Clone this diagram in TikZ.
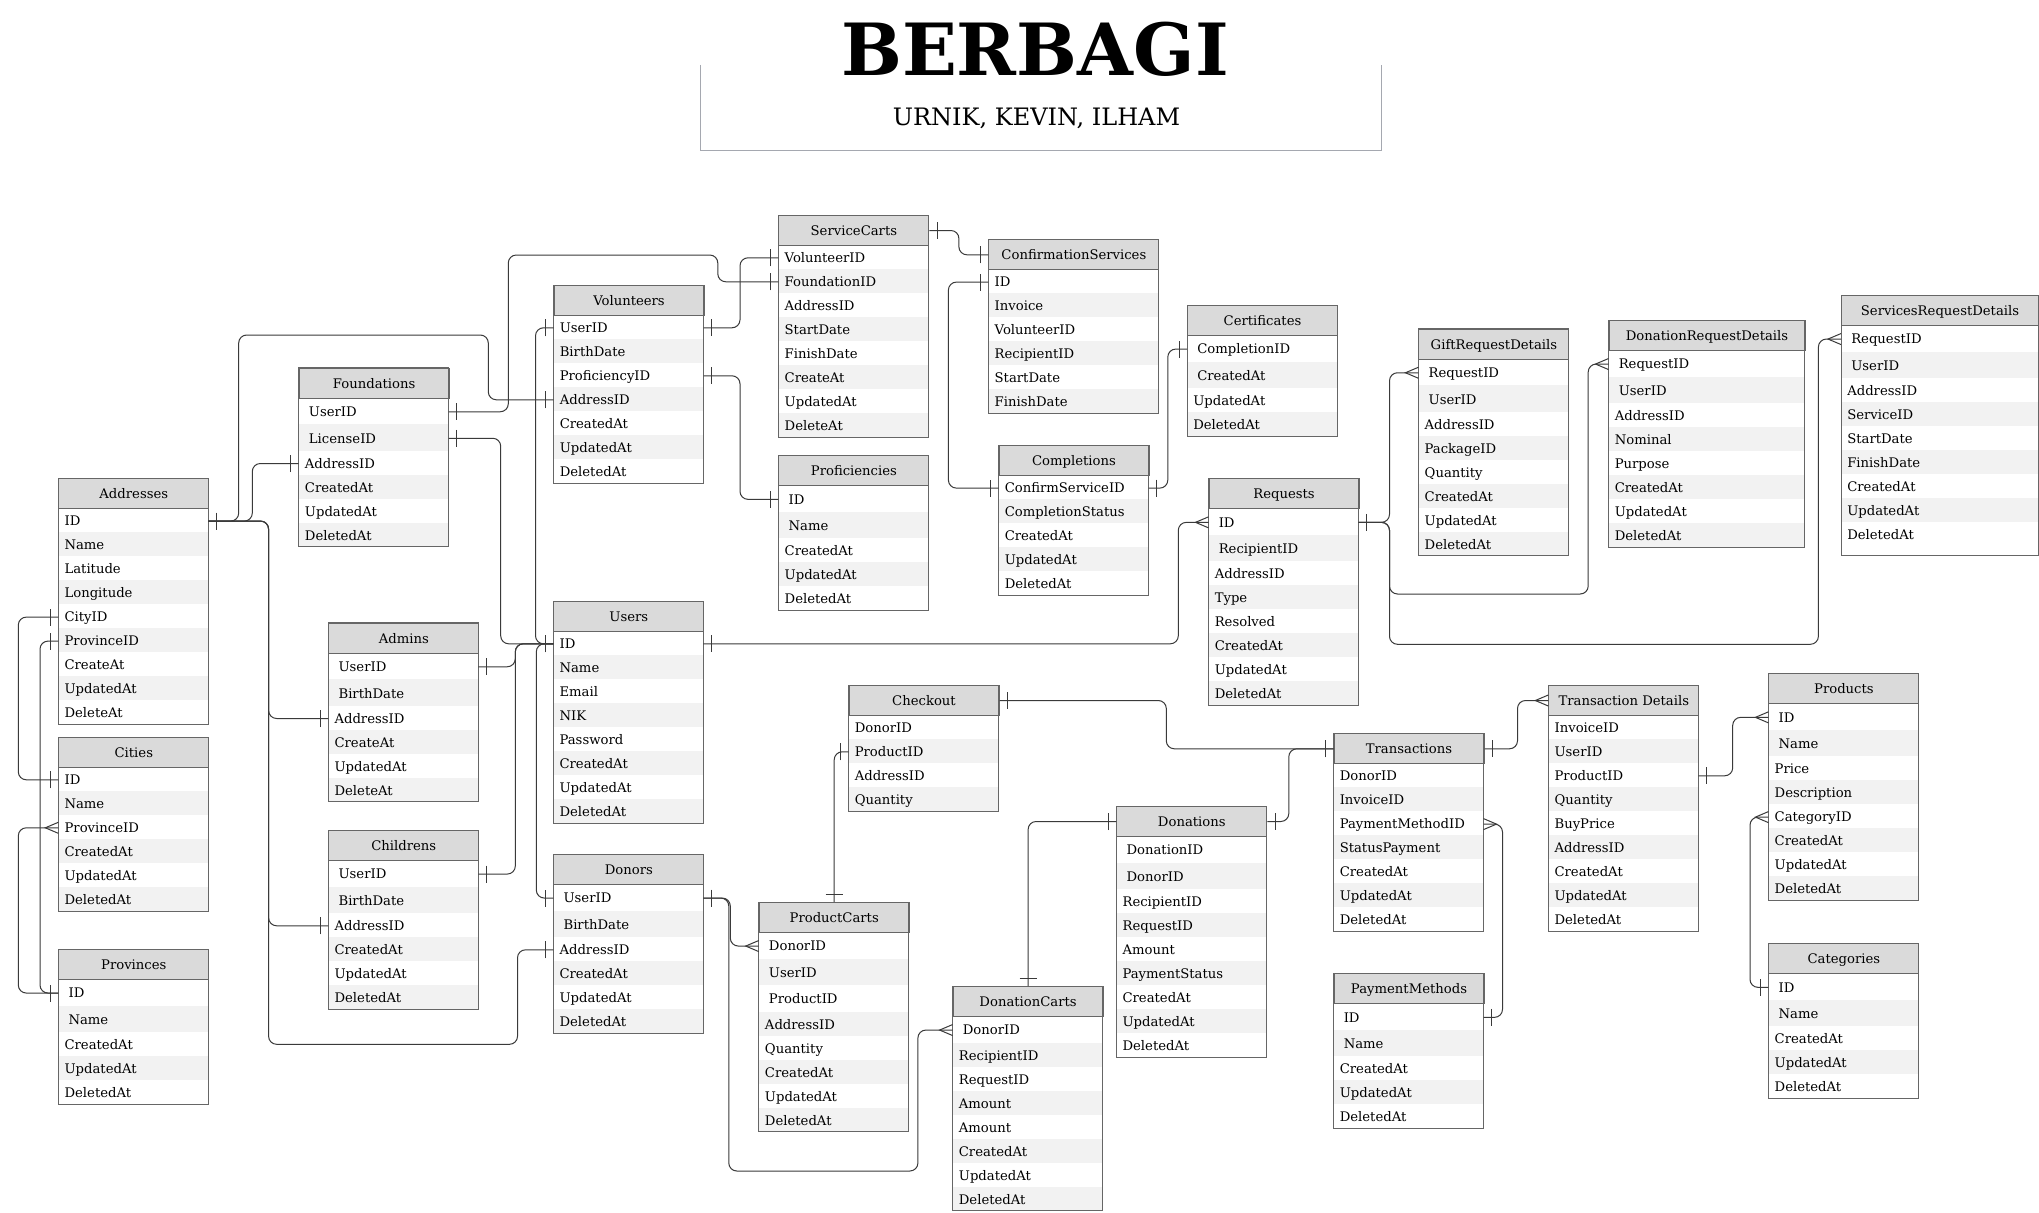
\documentclass[tikz,border=0pt]{standalone}
\usepackage{fontspec}
\setmainfont{DejaVu Serif}
\definecolor{tborder}{HTML}{666666}
\definecolor{hdrfill}{HTML}{DADADA}
\definecolor{rowgray}{HTML}{F2F2F2}
\definecolor{linecol}{HTML}{3A3A3A}
\definecolor{boxcol}{HTML}{A5A8B0}
\newcommand\tfont{\fontsize{9.9pt}{11pt}\selectfont}
\tikzset{
  hdrbox/.style={draw=tborder, fill=hdrfill, line width=0.75pt, inner sep=0pt, anchor=north west, font=\tfont, text height=7.2pt, text depth=0pt},
  rowtext/.style={anchor=west, inner sep=0pt, font=\tfont, text height=7.2pt, text depth=0pt},
  conn/.style={draw=linecol, line width=0.75pt, rounded corners=6pt},
  endmark/.style={draw=linecol, line width=0.75pt},
}
% table: id, x, y, width, title, number of tall rows, rows, extra bottom
\newcommand\ertable[8]{%
  \pgfmathsetmacro\erx{#2}%
  \pgfmathsetmacro\erw{#4}%
  \pgfmathsetmacro\ery{#3+30}%
  \xdef\ercury{\ery}%
  \xdef\erri{0}%
  \foreach \er in {#7}{%
    \pgfmathtruncatemacro\erk{\erri+1}%
    \ifnum\erk>#6\relax \def\erh{24}\def\erind{6}\else\def\erh{26.5}\def\erind{10}\fi
    \ifodd\erk\relax\def\erfill{white}\else\def\erfill{rowgray}\fi
    \pgfmathsetmacro\ernext{\ercury+\erh}%
    \pgfmathsetmacro\ermid{\ercury+\erh/2+0.8}%
    \fill[\erfill] (\erx,\ercury) rectangle (\erx+\erw,\ernext);
    \node[rowtext] (#1-\erk) at (\erx+\erind,\ermid) {\er};
    \coordinate (#1-\erk-w) at (\erx,\ermid);
    \coordinate (#1-\erk-e) at (\erx+\erw,\ermid);
    \xdef\ercury{\ernext}%
    \xdef\erri{\erk}%
  }%
  \node[hdrbox, minimum width=#4*0.75pt, minimum height=22.5pt] (#1) at (#2,#3) {#5};
  \pgfmathsetmacro\erbot{\ercury+#8}%
  \draw[tborder, line width=0.75pt] (#2,#3) rectangle (\erx+\erw,\erbot);
}
\newcommand\erone[2]{\draw[endmark, shift={(#1)}, rotate=#2] (8,-8.5) -- (8,8.5);}
\newcommand\ermany[2]{\draw[endmark, shift={(#1)}, rotate=#2] (0,-5.5) -- (13,0) -- (0,5.5);}
\begin{document}
\begin{tikzpicture}[x=0.75pt, y=-0.75pt]
\useasboundingbox (0,0) rectangle (2039,1213);
\fill[white] (0,0) rectangle (2039,1213);

% title
\draw[boxcol, line width=1.1pt] (700.7,65) -- (700.7,150.7) -- (1381.6,150.7) -- (1381.6,65);
\node[anchor=base, inner sep=0pt, font=\fontsize{54pt}{58pt}\selectfont\bfseries] (title) at (1035,75) {BERBAGI};
\node[anchor=base, inner sep=0pt, font=\fontsize{18pt}{21pt}\selectfont] (authors) at (1036.5,125) {URNIK, KEVIN, ILHAM};

% tables
\ertable{addr}{58.3}{478.3}{150}{Addresses}{0}{ID,Name,Latitude,Longitude,CityID,ProvinceID,CreateAt,UpdatedAt,DeleteAt}{0}
\ertable{cit}{58.3}{737}{150}{Cities}{0}{ID,Name,ProvinceID,CreatedAt,UpdatedAt,DeletedAt}{0}
\ertable{prov}{58.3}{949}{150}{Provinces}{2}{ID,Name,CreatedAt,UpdatedAt,DeletedAt}{0}
\ertable{fnd}{298.7}{367.7}{150}{Foundations}{2}{UserID,LicenseID,AddressID,CreatedAt,UpdatedAt,DeletedAt}{0}
\ertable{adm}{328.3}{622.7}{150}{Admins}{2}{UserID,BirthDate,AddressID,CreateAt,UpdatedAt,DeleteAt}{0}
\ertable{chd}{328.3}{830}{150}{Childrens}{2}{UserID,BirthDate,AddressID,CreatedAt,UpdatedAt,DeletedAt}{0}
\ertable{vol}{553.5}{285}{150}{Volunteers}{0}{UserID,BirthDate,ProficiencyID,AddressID,CreatedAt,UpdatedAt,DeletedAt}{0}
\ertable{usr}{553.3}{601}{150}{Users}{0}{ID,Name,Email,NIK,Password,CreatedAt,UpdatedAt,DeletedAt}{0}
\ertable{don}{553.3}{854}{150}{Donors}{2}{UserID,BirthDate,AddressID,CreatedAt,UpdatedAt,DeletedAt}{0}
\ertable{sc}{778.4}{215}{150}{ServiceCarts}{0}{VolunteerID,FoundationID,AddressID,StartDate,FinishDate,CreateAt,UpdatedAt,DeleteAt}{0}
\ertable{prof}{778.4}{455.3}{150}{Proficiencies}{2}{ID,Name,CreatedAt,UpdatedAt,DeletedAt}{0}
\ertable{cs}{988.4}{239.3}{170}{ConfirmationServices}{0}{ID,Invoice,VolunteerID,RecipientID,StartDate,FinishDate}{0}
\ertable{comp}{998.5}{445.3}{150}{Completions}{0}{ConfirmServiceID,CompletionStatus,CreatedAt,UpdatedAt,DeletedAt}{0}
\ertable{cert}{1187}{305}{150}{Certificates}{2}{CompletionID,CreatedAt,UpdatedAt,DeletedAt}{0}
\ertable{req}{1208.5}{478.3}{150}{Requests}{2}{ID,RecipientID,AddressID,Type,Resolved,CreatedAt,UpdatedAt,DeletedAt}{0}
\ertable{grd}{1418.4}{328.7}{150}{GiftRequestDetails}{2}{RequestID,UserID,AddressID,PackageID,Quantity,CreatedAt,UpdatedAt,DeletedAt}{0}
\ertable{drd}{1608.5}{320}{196}{DonationRequestDetails}{2}{RequestID,UserID,AddressID,Nominal,Purpose,CreatedAt,UpdatedAt,DeletedAt}{0}
\ertable{srd}{1841}{295}{197}{ServicesRequestDetails}{2}{RequestID,UserID,AddressID,ServiceID,StartDate,FinishDate,CreatedAt,UpdatedAt,DeletedAt}{9.4}
\ertable{chk}{848.5}{685}{150}{Checkout}{0}{DonorID,ProductID,AddressID,Quantity}{0}
\ertable{dnt}{1116.3}{806}{150}{Donations}{2}{DonationID,DonorID,RecipientID,RequestID,Amount,PaymentStatus,CreatedAt,UpdatedAt,DeletedAt}{0}
\ertable{trx}{1333.5}{733.3}{150}{Transactions}{0}{DonorID,InvoiceID,PaymentMethodID,StatusPayment,CreatedAt,UpdatedAt,DeletedAt}{0}
\ertable{pm}{1333.5}{973.3}{150}{PaymentMethods}{2}{ID,Name,CreatedAt,UpdatedAt,DeletedAt}{0}
\ertable{td}{1548.3}{685}{150}{Transaction Details}{0}{InvoiceID,UserID,ProductID,Quantity,BuyPrice,AddressID,CreatedAt,UpdatedAt,DeletedAt}{0}
\ertable{prd}{1768.4}{673.3}{150}{Products}{2}{ID,Name,Price,Description,CategoryID,CreatedAt,UpdatedAt,DeletedAt}{0}
\ertable{cat}{1768.4}{943.3}{150}{Categories}{2}{ID,Name,CreatedAt,UpdatedAt,DeletedAt}{0}
\ertable{pc}{758.7}{902}{150}{ProductCarts}{3}{DonorID,UserID,ProductID,AddressID,Quantity,CreatedAt,UpdatedAt,DeletedAt}{0}
\ertable{dc}{952.6}{986}{150}{DonationCarts}{1}{DonorID,RecipientID,RequestID,Amount,Amount,CreatedAt,UpdatedAt,DeletedAt}{0}

% connectors: Addresses hub
\draw[conn] (addr-1-e) -- ++(44,0) |- (fnd-3-w);
\draw[conn] (addr-1-e) -- ++(30.4,0) |- (488.3,335) |- (vol-4-w);
\draw[conn] (addr-1-e) -- ++(60.3,0) |- (adm-3-w);
\draw[conn] (addr-1-e) -- ++(60.3,0) |- (chd-3-w);
\draw[conn] (addr-1-e) -- ++(60.3,0) |- (517.5,1044.3) |- (don-3-w);
\erone{addr-1-e}{0}
\erone{fnd-3-w}{180}
\erone{vol-4-w}{180}
\erone{adm-3-w}{180}
\erone{chd-3-w}{180}
\erone{don-3-w}{180}

% Cities / Provinces
\draw[conn] (addr-5-w) -- ++(-40,0) |- (cit-1-w);
\draw[conn] (addr-6-w) -- ++(-18.3,0) |- (prov-1-w);
\draw[conn] (cit-3-w) -- ++(-40,0) |- (prov-1-w);
\erone{addr-5-w}{180}
\erone{cit-1-w}{180}
\erone{addr-6-w}{180}
\erone{prov-1-w}{180}
\ermany{cit-3-w}{180}

% Foundations
\draw[conn] (fnd-1-e) -- ++(59.6,0) |- (717.8,255) |- (sc-2-w);
\draw[conn] (fnd-2-e) -- ++(52,0) |- (usr-1-w);
\erone{fnd-1-e}{0}
\erone{sc-2-w}{180}
\erone{fnd-2-e}{0}

% Users hub
\draw[conn] (vol-1-w) -- ++(-18,0) |- (usr-1-w);
\draw[conn] (don-1-w) -- ++(-17,0) |- (usr-1-w);
\draw[conn] (adm-1-e) -- ++(37,0) |- (usr-1-w);
\draw[conn] (chd-1-e) -- ++(37,0) |- (usr-1-w);
\erone{usr-1-w}{180}
\erone{vol-1-w}{180}
\erone{don-1-w}{180}
\erone{adm-1-e}{0}
\erone{chd-1-e}{0}

% Volunteers
\draw[conn] (vol-1-e) -- ++(36.5,0) |- (sc-1-w);
\draw[conn] (vol-3-e) -- ++(36.5,0) |- (prof-1-w);
\erone{vol-1-e}{0}
\erone{sc-1-w}{180}
\erone{vol-3-e}{0}
\erone{prof-1-w}{180}

% ServiceCarts / ConfirmationServices / Completions / Certificates
\draw[conn] (sc.east) -- ++(29.5,0) |- (cs.west);
\erone{sc.east}{0}
\erone{cs.west}{180}
\draw[conn] (cs-1-w) -- ++(-40,0) |- (comp-1-w);
\erone{cs-1-w}{180}
\erone{comp-1-w}{180}
\draw[conn] (comp-1-e) -- ++(19.3,0) |- (cert-1-w);
\erone{comp-1-e}{0}
\erone{cert-1-w}{180}

% Users -> Requests
\draw[conn] (usr-1-e) -- ++(475,0) |- (req-1-w);
\erone{usr-1-e}{0}
\ermany{req-1-w}{180}

% Requests -> details
\draw[conn] (req-1-e) -- ++(31,0) |- (grd-1-w);
\draw[conn] (req-1-e) -- ++(31,0) |- (1588.2,594) |- (drd-1-w);
\draw[conn] (req-1-e) -- ++(31,0) |- (1818.4,644.3) |- (srd-1-w);
\erone{req-1-e}{0}
\ermany{grd-1-w}{180}
\ermany{drd-1-w}{180}
\ermany{srd-1-w}{180}

% Checkout / Donations -> Transactions
\draw[conn] (chk.east) -- ++(166.8,0) |- (trx.west);
\draw[conn] (dnt.east) -- ++(21.5,0) |- (trx.west);
\erone{chk.east}{0}
\erone{dnt.east}{0}
\erone{trx.west}{180}

% Checkout -> ProductCarts, Donations -> DonationCarts
\draw[conn] (chk-2-w) -| (pc.north);
\erone{chk-2-w}{180}
\erone{pc.north}{90}
\draw[conn] (dnt.west) -| (dc.north);
\erone{dnt.west}{180}
\erone{dc.north}{90}

% Donors -> carts
\draw[conn] (don-1-e) -- ++(27,0) |- (pc-1-w);
\draw[conn] (don-1-e) -- ++(25.5,0) |- (917.9,1171) |- (dc-1-w);
\erone{don-1-e}{0}
\ermany{pc-1-w}{180}
\ermany{dc-1-w}{180}

% Transactions side
\draw[conn] (trx.east) -- ++(33,0) |- (td.west);
\erone{trx.east}{0}
\ermany{td.west}{180}
\draw[conn] (trx-3-e) -- ++(19,0) |- (pm-1-e);
\ermany{trx-3-e}{0}
\erone{pm-1-e}{0}
\draw[conn] (td-3-e) -- ++(34.4,0) |- (prd-1-w);
\erone{td-3-e}{0}
\ermany{prd-1-w}{180}
\draw[conn] (cat-1-w) -- ++(-18.4,0) |- (prd-5-w);
\erone{cat-1-w}{180}
\ermany{prd-5-w}{180}
\end{tikzpicture}
\end{document}
